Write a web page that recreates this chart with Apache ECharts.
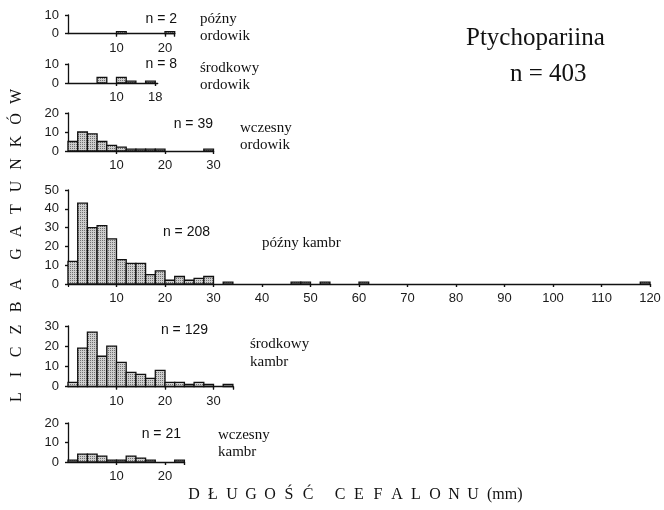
<!DOCTYPE html>
<html>
<head>
<meta charset="utf-8">
<script src="https://cdn.jsdelivr.net/npm/echarts@6/dist/echarts.min.js"></script>
<style>
  html, body { margin: 0; padding: 0; background: #fff; }
  #chart { width: 664px; height: 510px; }
</style>
</head>
<body>
<div id="chart"></div>
<script>
// Bin width of every histogram (mm)
const BIN = 2;

// Species counts per 2 mm bin of cephalon length, starting at 0 mm
const lateOrdovician   = [0, 0, 0, 0, 0, 1, 0, 0, 0, 0, 1];
const middleOrdovician = [0, 0, 0, 3, 0, 3, 1, 0, 1];
const earlyOrdovician  = [5, 10, 9, 5, 3, 2, 1, 1, 1, 1, 0, 0, 0, 0, 1];
const lateCambrian     = [12, 43, 30, 31, 24, 13, 11, 11, 5, 7, 2, 4, 2, 3, 4, 0, 1, 0, 0, 0,
                          0, 0, 0, 1, 1, 0, 1, 0, 0, 0, 1, 0, 0, 0, 0, 0, 0, 0, 0, 0,
                          0, 0, 0, 0, 0, 0, 0, 0, 0, 0, 0, 0, 0, 0, 0, 0, 0, 0, 0, 1];
const middleCambrian   = [2, 19, 27, 15, 20, 12, 7, 6, 4, 8, 2, 2, 1, 2, 1, 0, 1];
const earlyCambrian    = [1, 4, 4, 3, 1, 1, 3, 2, 1, 0, 0, 1];

// Axis tick values (x) and tick labels
const ticksLateOrd   = [10, 20, 22];
const labelsLateOrd  = [10, 20];
const ticksMidOrd    = [10, 18];
const labelsMidOrd   = [10, 18];
const ticksEarlyOrd  = [10, 20, 30];
const labelsEarlyOrd = [10, 20, 30];
const ticksMidCamb   = [10, 20, 30, 34];
const labelsMidCamb  = [10, 20, 30];
const ticksEarlyCamb = [10, 20, 24];
const labelsEarlyCamb= [10, 20];

// Sample sizes printed beside each panel, and the total for the suborder
const sampleSizes = { lateOrd: 2, midOrd: 8, earlyOrd: 39, lateCamb: 208, midCamb: 129, earlyCamb: 21 };
const totalSpecies = 403;

const chart = echarts.init(document.getElementById('chart'), null, { renderer: 'canvas' });

// Stippled grey fill used by the bars
function makeStipple() {
  const c = document.createElement('canvas');
  c.width = 2; c.height = 2;
  const ctx = c.getContext('2d');
  ctx.fillStyle = '#cdcdcd';
  ctx.fillRect(0, 0, 2, 2);
  ctx.fillStyle = '#707070';
  ctx.fillRect(0, 0, 1, 1);
  return c;
}
const stipple = { image: makeStipple(), repeat: 'repeat' };

const SANS = '"Liberation Sans", Arial, sans-serif';
const SERIF = '"Liberation Serif", "Times New Roman", serif';

// Layout of the six panels (pixel boxes); x scale is shared: 4.85 px per mm
const PX_PER_MM = 4.85;
const LEFT = 68;
const panels = [
  { counts: lateOrdovician,   xMax: 22,  yMax: 10, top: 15,  bottom: 33.5, ticks: ticksLateOrd,  labels: labelsLateOrd },
  { counts: middleOrdovician, xMax: 18.5, yMax: 10, top: 64, bottom: 83,  ticks: ticksMidOrd,   labels: labelsMidOrd },
  { counts: earlyOrdovician,  xMax: 30,  yMax: 20, top: 113, bottom: 151, ticks: ticksEarlyOrd, labels: labelsEarlyOrd },
  { counts: lateCambrian,     xMax: 120, yMax: 50, top: 190, bottom: 284, ticks: null,          labels: null },
  { counts: middleCambrian,   xMax: 34,  yMax: 30, top: 326, bottom: 386.5, ticks: ticksMidCamb, labels: labelsMidCamb },
  { counts: earlyCambrian,    xMax: 24,  yMax: 20, top: 423, bottom: 462, ticks: ticksEarlyCamb, labels: labelsEarlyCamb }
];

const grid = [], xAxis = [], yAxis = [], series = [];
const axisLine = { lineStyle: { color: '#111', width: 1.3 } };
const tickStyle = { color: '#111', width: 1.2 };
const labelStyle = { fontFamily: SANS, fontSize: 13, color: '#1a1a1a' };

panels.forEach((p, i) => {
  grid.push({
    left: LEFT, top: p.top,
    width: p.xMax * PX_PER_MM, height: p.bottom - p.top,
    containLabel: false
  });
  const xBase = { type: 'value', gridIndex: i, min: 0, max: p.xMax, splitLine: { show: false } };
  const xMain = Object.assign({}, xBase, {
    axisLine: Object.assign({ show: true, onZero: false }, axisLine),
    axisTick: { show: true, length: 3, lineStyle: tickStyle },
    axisLabel: Object.assign({ margin: 8 }, labelStyle)
  });
  const xOver = Object.assign({}, xBase, {
    axisLine: { show: false },
    axisTick: { show: true, inside: true, length: 3, lineStyle: tickStyle },
    axisLabel: { show: false }
  });
  if (p.ticks) {
    xMain.axisTick.customValues = p.ticks;
    xMain.axisLabel.customValues = p.labels;
    xOver.axisTick.customValues = p.ticks;
  } else {
    xMain.interval = 10;
    xOver.interval = 10;
    xMain.axisLabel.showMinLabel = false;
  }
  xAxis.push(xMain, xOver);

  const yBase = { type: 'value', gridIndex: i, min: 0, max: p.yMax, interval: 10, splitLine: { show: false } };
  yAxis.push(
    Object.assign({}, yBase, {
      axisLine: Object.assign({ show: true, onZero: false }, axisLine),
      axisTick: { show: true, length: 3, lineStyle: tickStyle },
      axisLabel: Object.assign({ margin: 9 }, labelStyle)
    }),
    Object.assign({}, yBase, {
      axisLine: { show: false },
      axisTick: { show: true, inside: true, length: 3, lineStyle: tickStyle },
      axisLabel: { show: false }
    })
  );

  series.push({
    type: 'custom',
    xAxisIndex: i * 2,
    yAxisIndex: i * 2,
    data: p.counts.map((c, k) => [k * BIN, (k + 1) * BIN, c]),
    encode: { x: [0, 1], y: 2 },
    z: 1,
    renderItem: function (params, api) {
      const count = api.value(2);
      if (!count) return null;
      const a = api.coord([api.value(0), 0]);
      const b = api.coord([api.value(1), count]);
      return {
        type: 'rect',
        shape: { x: a[0], y: b[1], width: b[0] - a[0], height: a[1] - b[1] },
        style: { fill: stipple, stroke: '#111', lineWidth: 1.3 }
      };
    }
  });
});

// Text helpers
function txt(text, x, y, font, align) {
  return {
    type: 'text', x: x, y: y,
    style: { text: text, font: font, fill: '#111', align: align || 'left', verticalAlign: 'middle',
             textAlign: align || 'left', textVerticalAlign: 'middle' }
  };
}
function spaced(chars, positions, fixed, font, vertical) {
  return chars.split('').map((ch, k) => ({
    type: 'text',
    x: vertical ? fixed : positions[k],
    y: vertical ? positions[k] : fixed,
    rotation: vertical ? Math.PI / 2 : 0,
    style: { text: ch, font: font, fill: '#111', align: 'center', verticalAlign: 'middle',
             textAlign: 'center', textVerticalAlign: 'middle' }
  }));
}
function run(start, step, n) { const out = []; for (let k = 0; k < n; k++) out.push(start + k * step); return out; }

const nFont = '14px ' + SANS;
const periodFont = '15px ' + SERIF;
const titleFont = '16px ' + SERIF;

const graphics = [
  txt('n = ' + sampleSizes.lateOrd, 177, 19, nFont, 'right'),
  txt('późny', 200, 19, periodFont), txt('ordowik', 200, 36, periodFont),
  txt('n = ' + sampleSizes.midOrd, 177, 64, nFont, 'right'),
  txt('środkowy', 200, 68, periodFont), txt('ordowik', 200, 85, periodFont),
  txt('n = ' + sampleSizes.earlyOrd, 213, 124, nFont, 'right'),
  txt('wczesny', 240, 128, periodFont), txt('ordowik', 240, 145, periodFont),
  txt('n = ' + sampleSizes.lateCamb, 210, 232, nFont, 'right'),
  txt('późny kambr', 262, 243, periodFont),
  txt('n = ' + sampleSizes.midCamb, 208, 330, nFont, 'right'),
  txt('środkowy', 250, 344, periodFont), txt('kambr', 250, 362, periodFont),
  txt('n = ' + sampleSizes.earlyCamb, 181, 434, nFont, 'right'),
  txt('wczesny', 218, 435, periodFont), txt('kambr', 218, 452, periodFont),
  txt('Ptychopariina', 466, 38, '25px ' + SERIF),
  txt('n = ' + totalSpecies, 510, 74, '25px ' + SERIF)
];

// Letter-spaced axis titles
graphics.push.apply(graphics, spaced('LICZBA', run(397, -22.5, 6), 17, titleFont, true));
graphics.push.apply(graphics, spaced('GATUNKÓW', run(254, -22.5, 8), 17, titleFont, true));
graphics.push.apply(graphics, spaced('DŁUGOŚĆ', run(194, 19, 7), 495, titleFont, false));
graphics.push.apply(graphics, spaced('CEFALONU', run(340, 19, 8), 495, titleFont, false));
graphics.push(txt('(mm)', 487, 495, titleFont));

chart.setOption({
  backgroundColor: '#fff',
  animation: false,
  grid: grid,
  xAxis: xAxis,
  yAxis: yAxis,
  series: series,
  graphic: { elements: graphics }
});
</script>
</body>
</html>
